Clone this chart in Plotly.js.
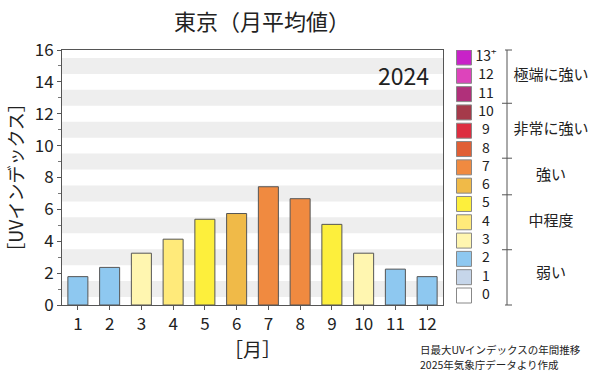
<!DOCTYPE html>
<html><head><meta charset="utf-8">
<script src="https://cdn.plot.ly/plotly-3.0.1.min.js"></script>
<style>html,body{margin:0;padding:0;background:#fff}#c{width:600px;height:380px}</style>
</head><body><div id="c"></div>
<script>
const months = ['1','2','3','4','5','6','7','8','9','10','11','12'];
const uvValues = [1.78, 2.36, 3.25, 4.13, 5.38, 5.74, 7.42, 6.67, 5.06, 3.25, 2.25, 1.78];
const levels = [0,1,2,3,4,5,6,7,8,9,10,11,12,13];
const levelLabels = ['0','1','2','3','4','5','6','7','8','9','10','11','12','13<sup>+</sup>'];
const levelColors = ['#FFFFFF','#C6D6EA','#8EC8F0','#FFF6B0','#FFEA7A','#FDEF3C','#F0BA48','#F08A40','#E05F35','#DD2E40','#A53A4A','#B0307A','#DD44BB','#C822C8'];
const groupNames = ['極端に強い','非常に強い','強い','中程度','弱い'];
const groupCenters = [12, 9, 6.5, 4, 1.15];
const groupBounds = [2.5, 5.5, 7.5, 10.5];
const yearLabel = '2024';
const noteLines = ['日最大UVインデックスの年間推移', '2025年気象庁データより作成'];

const FONT = '"Noto Sans CJK JP", "Noto Sans", sans-serif';
const barColors = uvValues.map(v => levelColors[Math.min(13, Math.round(v))]);

const traces = [
  {type:'bar', x: months, y: uvValues, marker:{color: barColors, line:{color:'#555', width:1}},
   width: 0.63, hoverinfo:'skip', showlegend:false},
  {type:'scatter', mode:'markers', x: levels.map(()=>464), y: levels, xaxis:'x2', yaxis:'y2',
   marker:{symbol:'square', size:15, color: levelColors, line:{color:'#888', width:1}},
   showlegend:false, hoverinfo:'skip'},
  {type:'scatter', mode:'text', x: levels.map(()=>486), y: levels, xaxis:'x2', yaxis:'y2',
   text: levelLabels, textposition:'middle center', textfont:{family:FONT, size:14, color:'#222'},
   showlegend:false, hoverinfo:'skip'},
  {type:'scatter', mode:'text', x: groupNames.map(()=>551), y: groupCenters, xaxis:'x2', yaxis:'y2',
   text: groupNames, textposition:'middle center', textfont:{family:FONT, size:15, color:'#222'},
   showlegend:false, hoverinfo:'skip'}
];

const shapes = [];
for (let k = 0; k < 16; k += 2) {
  shapes.push({type:'rect', xref:'x domain', yref:'y', x0:0, x1:1, y0:k+0.5, y1:k+1.5,
    fillcolor:'#EEEEEE', line:{width:0}, layer:'below'});
}
// bracket
shapes.push({type:'line', xref:'x2', yref:'y2 domain', x0:507, x1:507, y0:0, y1:1, line:{color:'#555', width:1}});
shapes.push({type:'line', xref:'x2', yref:'y2 domain', x0:505, x1:512, y0:1, y1:1, line:{color:'#555', width:1}});
shapes.push({type:'line', xref:'x2', yref:'y2 domain', x0:505, x1:512, y0:0, y1:0, line:{color:'#555', width:1}});
groupBounds.forEach(b => shapes.push({type:'line', xref:'x2', yref:'y2', x0:502, x1:512, y0:b, y1:b, line:{color:'#555', width:1}}));

const xDomEnd = (443-62)/538;
const noteY = [349.5, 364];
const layout = {
  width:600, height:380,
  margin:{l:62, r:0, t:50, b:75},
  paper_bgcolor:'#fff', plot_bgcolor:'rgba(0,0,0,0)',
  font:{family:FONT, color:'#222'},
  title:{text:'東京（月平均値）', font:{family:FONT, size:22, color:'#222'},
    xref:'container', x:262/600, xanchor:'center', yref:'container', y:1-22/380, yanchor:'middle'},
  xaxis:{domain:[0, xDomEnd], type:'category', showline:true, mirror:true, linecolor:'#555', linewidth:1,
    ticks:'outside', ticklen:4, tickcolor:'#555', tickfont:{size:17, color:'#222'}, showgrid:false,
    title:{text:'［月］', font:{size:19, color:'#222'}, standoff:0}},
  yaxis:{range:[0,16], dtick:2, showline:true, mirror:true, linecolor:'#555', linewidth:1,
    ticks:'outside', ticklen:4, tickcolor:'#555', tickfont:{size:17, color:'#222'}, showgrid:false, zeroline:false,
    minor:{dtick:1, ticks:'outside', ticklen:3, tickcolor:'#777', showgrid:false},
    title:{text:'［UVインデックス］', font:{size:18, color:'#222'}, standoff:6}},
  xaxis2:{domain:[(450-62)/538, 1], range:[450,600], visible:false, fixedrange:true},
  yaxis2:{domain:[0,1], range:[-0.519, 13.41], visible:false, anchor:'x2', fixedrange:true},
  shapes: shapes,
  annotations:[
    {xref:'paper', yref:'paper', x:(431-62)/538, y:(305-75)/255, xanchor:'right', yanchor:'middle',
     text: yearLabel, showarrow:false, font:{family:FONT, size:23, color:'#222'}}
  ].concat(noteLines.map((t, i) => ({
     xref:'paper', yref:'paper', x:(419-62)/538, y:-(noteY[i]-305)/255, xanchor:'left', yanchor:'middle', align:'left',
     text:t, showarrow:false, borderpad:0, font:{family:FONT, size:10.5, color:'#222'}}))),
  bargap:0.37
};
Plotly.newPlot('c', traces, layout, {staticPlot:true, displayModeBar:false});
</script></body></html>
